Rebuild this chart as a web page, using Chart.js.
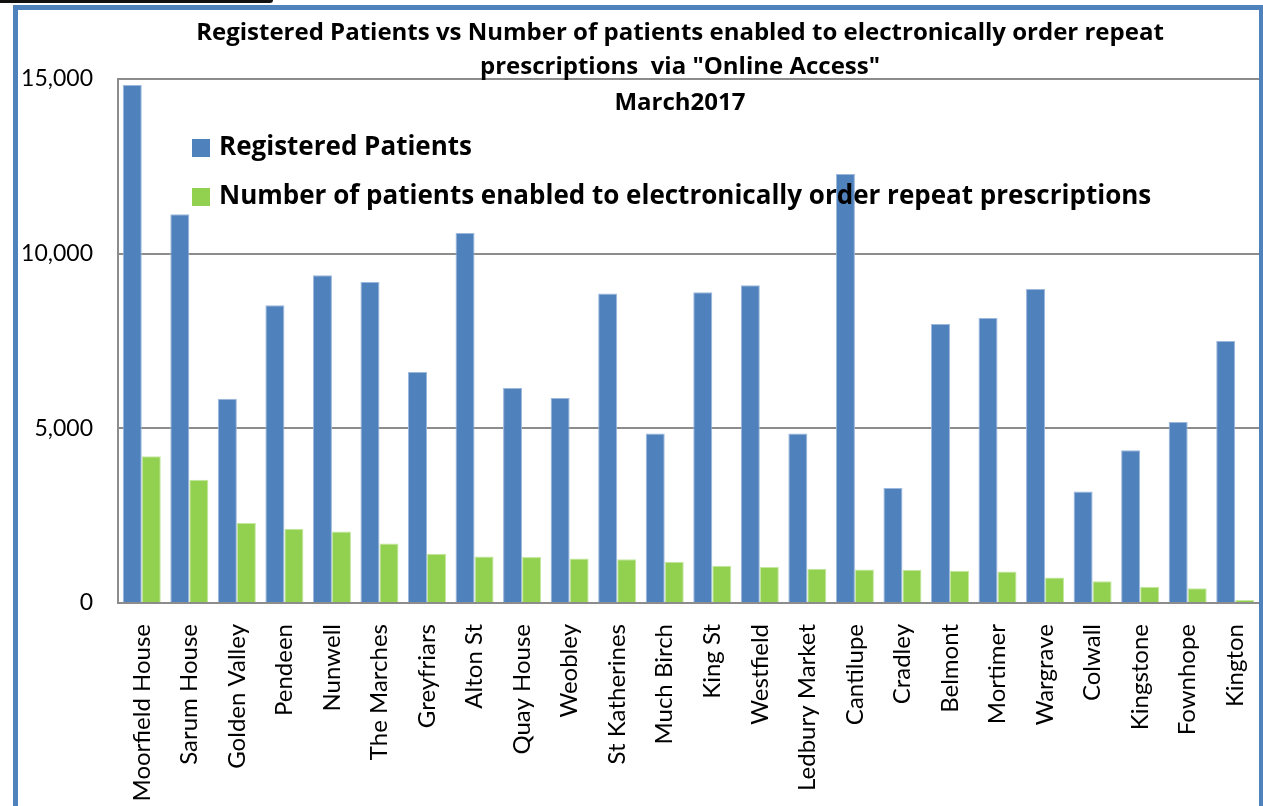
<!DOCTYPE html>
<html>
<head>
<meta charset="utf-8">
<title>Registered Patients vs Online Access</title>
<script src="https://cdn.jsdelivr.net/npm/chart.js@4/dist/chart.umd.min.js"></script>
<style>
  html, body { margin: 0; padding: 0; background: #fff; overflow: hidden; }
  #wrap { position: relative; width: 1263px; height: 806px; }
  #chart { position: absolute; left: 0; top: 0; }
  /* blue frame of the chart object */
  #frame {
    position: absolute; left: 13px; top: 5px; width: 1250px; height: 900px;
    box-sizing: border-box; border: 5px solid #4F81BD; border-right-width: 4px;
    pointer-events: none;
  }
  #topbar {
    position: absolute; left: 0; top: 0; width: 273px; height: 3px;
    background: #111; border-bottom-right-radius: 4px;
  }
</style>
</head>
<body>
<div id="wrap">
  <canvas id="chart" width="1263" height="806"></canvas>
  <div id="frame"></div>
  <div id="topbar"></div>
</div>
<script>
// practices
const practices = ['Moorfield House', 'Sarum House', 'Golden Valley', 'Pendeen', 'Nunwell', 'The Marches',
  'Greyfriars', 'Alton St', 'Quay House', 'Weobley', 'St Katherines', 'Much Birch', 'King St', 'Westfield',
  'Ledbury Market', 'Cantilupe', 'Cradley', 'Belmont', 'Mortimer', 'Wargrave', 'Colwall', 'Kingstone',
  'Fownhope', 'Kington'];

// registered patients (blue)
const registered = [14830, 11130, 5850, 8525, 9385, 9190, 6615, 10595, 6155, 5870, 8860, 4850,
  8895, 9095, 4850, 12280, 3290, 7990, 8160, 8985, 3195, 4370, 5180, 7500];

// patients enabled to order repeat prescriptions online (green)
const enabled = [4200, 3530, 2290, 2125, 2050, 1700, 1410, 1330, 1315, 1275, 1255, 1180,
  1065, 1030, 980, 960, 950, 920, 905, 730, 625, 465, 425, 85];

const yTicks = [0, 5000, 10000, 15000];

const titleLines = [
  'Registered Patients vs Number of patients enabled to electronically order repeat',
  'prescriptions  via "Online Access"',
  'March2017'
];
const seriesNames = ['Registered Patients', 'Number of patients enabled to electronically order repeat prescriptions'];
const seriesColors = ['#4F81BD', '#92D050'];

// title + legend drawn over the plot, like the excel original
const overlayPlugin = {
  id: 'overlay',
  afterDraw(chart) {
    const ctx = chart.ctx;
    ctx.save();
    ctx.fillStyle = '#000';
    ctx.textAlign = 'center';
    ctx.textBaseline = 'alphabetic';
    ctx.font = 'bold 24px "Open Sans"';
    const baseY = [40, 74, 110];
    titleLines.forEach((t, i) => ctx.fillText(t, 680, baseY[i]));

    // legend
    ctx.textAlign = 'left';
    ctx.font = 'bold 26px "Open Sans"';
    const rowBase = [155, 204];
    chart.data.datasets.forEach((ds, i) => {
      ctx.fillStyle = ds.backgroundColor;
      ctx.fillRect(192, rowBase[i] - 16, 18, 18);
      ctx.fillStyle = '#000';
      ctx.fillText(ds.label, 219, rowBase[i]);
    });
    ctx.restore();
  }
};

new Chart(document.getElementById('chart'), {
  type: 'bar',
  data: {
    labels: practices,
    datasets: [
      { label: seriesNames[0], data: registered, backgroundColor: seriesColors[0], borderColor: '#9db8dc', borderWidth: { top: 1, left: 1, right: 1, bottom: 0 } },
      { label: seriesNames[1], data: enabled, backgroundColor: seriesColors[1], borderColor: '#c4e89e', borderWidth: { top: 1, left: 1, right: 1, bottom: 0 } }
    ]
  },
  options: {
    responsive: false,
    animation: false,
    locale: 'en-US',
    layout: { padding: { top: 79, right: 4, bottom: 0, left: 0 } },
    datasets: { bar: { categoryPercentage: 0.8, barPercentage: 1.0 } },
    plugins: {
      legend: { display: false },
      title: { display: false },
      tooltip: { enabled: false }
    },
    scales: {
      x: {
        grid: { display: false },
        border: { display: true, color: '#8c8c8c', width: 2 },
        ticks: {
          color: '#000',
          font: { family: 'Lato', size: 24 },
          minRotation: 90,
          maxRotation: 90,
          autoSkip: false,
          padding: 13
        },
        afterFit: (s) => { s.height = 203; s.paddingLeft = 0; s.paddingRight = 0; }
      },
      y: {
        min: 0,
        max: 15000,
        afterBuildTicks: (s) => { s.ticks = yTicks.map(v => ({ value: v })); },
        grid: { color: '#8c8c8c', lineWidth: 2, drawTicks: false },
        border: { display: true, color: '#8c8c8c', width: 2 },
        ticks: {
          color: '#000',
          font: { family: 'Lato', size: 23 },
          padding: 25,
          callback: (v) => v.toLocaleString('en-US')
        },
        afterFit: (s) => { s.width = 118; }
      }
    }
  },
  plugins: [overlayPlugin]
});
</script>
</body>
</html>
